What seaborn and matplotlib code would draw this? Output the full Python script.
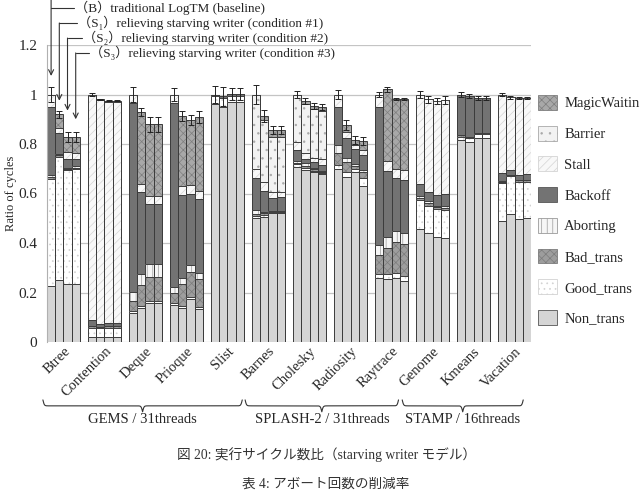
import numpy as np
import pandas as pd
import seaborn as sns
import matplotlib
matplotlib.use("Agg")
from matplotlib import pyplot as plt
from matplotlib.patches import Patch
import matplotlib.transforms as mtransforms


benchmarks = ["Btree", "Contention", "Deque", "Prioque", "Slist",
              "Barnes", "Cholesky", "Radiosity", "Raytrace",
              "Genome", "Kmeans", "Vacation"]
conditions = ["B", "S1", "S2", "S3"]

# one row per benchmark, columns = B, S1, S2, S3
non_trans = [[.225, .250, .233, .234], [.022, .022, .022, .022],
             [.118, .139, .156, .158], [.150, .139, .172, .132],
             [.962, .951, .971, .971], [.500, .506, .520, .520],
             [.708, .695, .686, .677], [.698, .668, .686, .632],
             [.257, .253, .257, .246], [.457, .439, .423, .419],
             [.816, .807, .826, .826], [.489, .516, .497, .500]]
good_trans = [[.432, .499, .462, .466], [.036, .033, .036, .036],
              [.007, .008, .010, .008], [.006, .008, .010, .011],
              [.030, .034, .024, .024], [.009, .007, .004, .004],
              [.010, .007, .006, .005], [.017, .020, .014, .032],
              [.016, .020, .020, .022], [.117, .112, .114, .114],
              [.014, .016, .013, .013], [.152, .156, .151, .148]]
bad_trans = [[.008, .005, .005, .005], [.005, .005, .005, .005],
             [.041, .083, .098, .098], [.044, .086, .102, .112],
             [0, 0, 0, 0], [.008, .007, .003, .003],
             [.006, .010, .006, .004], [.047, .041, .012, .022],
             [.079, .108, .126, .127], [.006, .010, .007, .009],
             [.006, .007, .004, .004], [.004, .004, .007, .007]]
aborting = [[.010, .004, .005, .005], [0, 0, 0, 0],
            [.037, .046, .051, .051], [.024, .024, .027, .022],
            [0, 0, 0, 0], [.016, .007, .002, .002],
            [.007, .010, .006, .004], [.034, .013, .006, .009],
            [.040, .045, .045, .044], [.010, .009, .007, .009],
            [0, 0, 0, 0], [.005, 0, 0, 0]]
backoff = [[.276, .085, .035, .030], [.026, .014, .015, .015],
           [.761, .331, .241, .241], [.740, .337, .289, .301],
           [.008, .007, .008, .008], [.128, .083, .054, .056],
           [.045, .018, .022, .025], [.155, .081, .062, .061],
           [.559, .265, .213, .216], [.047, .037, .043, .046],
           [.164, .164, .144, .144], [.031, .019, .020, .022]]
stall = [[.049, .023, .029, .022], [.911, .902, .893, .893],
         [.036, .033, .033, .033], [.036, .038, .034, .032],
         [0, 0, 0, 0], [.039, .035, .022, .020],
         [.031, .022, .019, .025], [.049, .027, .016, .020],
         [.049, .040, .039, .040], [.363, .373, .380, .381],
         [0, 0, 0, 0], [.319, .294, .310, .308]]
barrier = [[0, 0, 0, 0], [0, 0, 0, 0], [0, 0, 0, 0], [0, 0, 0, 0],
           [0, 0, 0, 0], [.300, .252, .225, .225],
           [.193, .200, .196, .193], [0, 0, 0, 0],
           [0, 0, 0, 0], [0, 0, 0, 0], [0, 0, 0, 0], [0, 0, 0, 0]]
magic_waiting = [[0, .054, .061, .068], [0, .004, .004, .004],
                 [0, .290, .291, .291], [0, .282, .263, .298],
                 [0, 0, 0, 0], [0, .017, .027, .027],
                 [0, .013, .013, .017], [0, .027, .020, .036],
                 [0, .291, .282, .287], [0, 0, 0, 0],
                 [0, 0, 0, 0], [0, 0, 0, 0]]
err = [[.030, .015, .020, .020], [.005, .003, .003, .003],
       [.030, .015, .030, .030], [.025, .020, .020, .025],
       [.035, .040, .025, .025], [.040, .025, .015, .015],
       [.015, .012, .012, .012], [.020, .020, .015, .015],
       [.012, .010, .005, .005], [.015, .015, .012, .015],
       [.010, .010, .008, .008], [.008, .006, .003, .003]]

suites = ["GEMS / 31threads", "SPLASH-2 / 31threads", "STAMP / 16threads"]
annot_labels = ["（B）traditional LogTM (baseline)",
                "（S₁）relieving starving writer (condition #1)",
                "（S₂）relieving starving writer (condition #2)",
                "（S₃）relieving starving writer (condition #3)"]

# (column, legend label, data, face, hatch, hatch colour) bottom -> top
layers = [("Non_trans", "Non_trans", non_trans, "#d5d5d5", "", "#d5d5d5"),
          ("Good_trans", "Good_trans", good_trans, "#ffffff", "...", "#d2d2d2"),
          ("Bad_trans", "Bad_trans", bad_trans, "#9d9d9d", "xxxx", "#7c7c7c"),
          ("Aborting", "Aborting", aborting, "#f6f6f6", "|||", "#9a9a9a"),
          ("Backoff", "Backoff", backoff, "#737373", "", "#737373"),
          ("Stall", "Stall", stall, "#f8f8f8", "////", "#d4d4d4"),
          ("Barrier", "Barrier", barrier, "#f2f2f2", "..", "#a8a8a8"),
          ("MagicWaiting", "MagicWaitin", magic_waiting, "#a8a8a8", "xxxx", "#7e7e7e")]

# long table with cumulative tops
rows = []
for i, b in enumerate(benchmarks):
    for j, c in enumerate(conditions):
        r = {"bench": b, "cond": c}
        total = 0
        for col, _, data, _, _, _ in layers:
            total += data[i][j]
            r[col] = total
        r["err"] = err[i][j]
        rows.append(r)
df = pd.DataFrame(rows)

sns.set_style("white")
plt.rcParams["font.family"] = ["Liberation Serif", "DejaVu Serif", "Noto Sans CJK JP"]
plt.rcParams["hatch.linewidth"] = 0.5

fig = plt.figure(figsize=(6.42, 4.93), dpi=100)
ax = fig.add_axes([47 / 642, 1 - 342 / 493, 484 / 642, 297 / 493])

# draw cumulative bars from top layer down, each covering the ones below
for col, _, data, face, hatch, hcol in layers[::-1]:
    sns.barplot(data=df, x="bench", y=col, hue="cond", order=benchmarks,
                hue_order=conditions, palette={c: face for c in conditions},
                saturation=1, errorbar=None, width=0.8, gap=0, dodge=True,
                legend=False, edgecolor=hcol, hatch=hatch, linewidth=0, ax=ax)
    sns.barplot(data=df, x="bench", y=col, hue="cond", order=benchmarks,
                hue_order=conditions, palette={c: "#3c3c3c" for c in conditions},
                fill=False, errorbar=None, width=0.8, gap=0, dodge=True,
                legend=False, linewidth=0.7, ax=ax)

# error bars on top of each stack
offsets = (np.arange(len(conditions)) - 1.5) * 0.2
df["xpos"] = [i + offsets[j] for i in range(len(benchmarks)) for j in range(len(conditions))]
ax.errorbar(df["xpos"], df["MagicWaiting"], yerr=df["err"], fmt="none",
            ecolor="#222222", elinewidth=0.7, capsize=2.2, capthick=0.7, zorder=5)

ax.set_xlim(-0.4, 11.4)
ax.set_ylim(0, 1.2)
ax.set_yticks([0, 0.2, 0.4, 0.6, 0.8, 1.0, 1.2])
ax.set_yticklabels(["0", "0.2", "0.4", "0.6", "0.8", "1", "1.2"], fontsize=11)
ax.yaxis.grid(True, color="#c4c4c4", lw=0.9)
ax.set_axisbelow(True)
ax.tick_params(axis="y", length=4, color="#b0b0b0", pad=3)
ax.tick_params(axis="x", length=0, pad=2)
for s in ["top", "right", "bottom"]:
    ax.spines[s].set_visible(False)
ax.spines["left"].set_color("#b0b0b0")
ax.spines["left"].set_linewidth(0.8)
ax.set_xlabel("")
ax.set_ylabel("Ratio of cycles", fontsize=9)
ax.yaxis.set_label_coords(-30 / 484, 0.5)
ax.set_xticks(range(len(benchmarks)))
ax.set_xticklabels(benchmarks, rotation=45, ha="right", va="top",
                   rotation_mode="anchor", fontsize=10.5)

# curly braces grouping the suites
trans = mtransforms.blended_transform_factory(ax.transData, ax.transAxes)
brace_spans = [(-0.5, 4.36), (4.43, 8.17), (8.26, 11.21)]
for (x0, x1), lab in zip(brace_spans, suites):
    xc = (x0 + x1) / 2
    bt = 60.0
    t = np.linspace(x0, xc, 200)
    f = 1 / (1 + np.exp(-bt * (t - x0))) + 1 / (1 + np.exp(-bt * (t - xc)))
    xs = np.concatenate([t, 2 * xc - t[::-1]])
    fs = np.concatenate([f, f[::-1]])
    ys = -0.195 - (fs - 0.5) * 0.04
    ax.plot(xs, ys, color="#333333", lw=0.8, transform=trans, clip_on=False)
    ax.text(xc, -0.26, lab, transform=trans, ha="center", va="center", fontsize=10.5)

# arrows naming the four bars of Btree
px = 1 / 41.0
arrow_tips = [1.075, 0.975, 0.935, 0.90]
row_y = [1.349, 1.289, 1.228, 1.168]
seg_len = [23, 18, 14, 13]
for j, lab in enumerate(annot_labels):
    xb = offsets[j]
    top = 1.40 if j == 0 else row_y[j]
    ax.annotate("", xy=(xb, arrow_tips[j]), xytext=(xb, top),
                arrowprops=dict(arrowstyle="->", lw=0.8, color="#333333",
                                shrinkA=0, shrinkB=0, mutation_scale=9),
                annotation_clip=False)
    ax.plot([xb, xb + seg_len[j] * px], [row_y[j], row_y[j]], color="#333333",
            lw=0.8, clip_on=False)
    ax.text(xb + (seg_len[j] + 1) * px, row_y[j], lab, ha="left", va="center",
            fontsize=9.5, clip_on=False)

# legend on the right
handles = [Patch(facecolor=face, edgecolor=hcol if hatch else "#555555", hatch=hatch,
                 linewidth=0.6, label=lab)
           for _, lab, _, face, hatch, hcol in layers[::-1]]
fig.legend(handles=handles, loc="upper left", bbox_to_anchor=(538 / 642, 1 - 95 / 493),
           frameon=False, fontsize=10.5, handlelength=1.3, handleheight=1.2,
           labelspacing=1.05, handletextpad=0.5, borderpad=0, borderaxespad=0)

fig.text(0.508, 1 - 455 / 493, "図 20: 実行サイクル数比（starving writer モデル）",
         ha="center", va="center", fontsize=9.8, color="#333333")
fig.text(0.508, 1 - 484 / 493, "表 4: アボート回数の削減率", ha="center", va="center",
         fontsize=9.8, color="#333333")

fig.savefig("out.png", dpi=100)
